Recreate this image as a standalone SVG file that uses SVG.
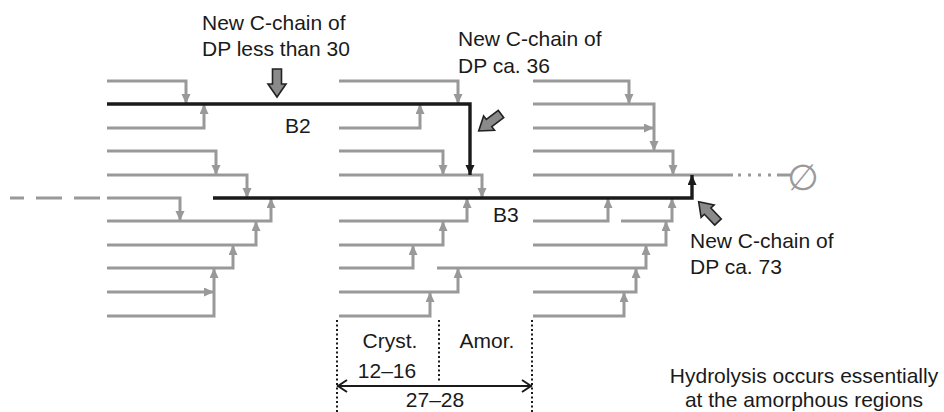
<svg xmlns="http://www.w3.org/2000/svg" width="944" height="412" viewBox="0 0 944 412">
<defs>
<style>
.g{fill:none;stroke:#999;stroke-width:3}
.ga{fill:none;stroke:#999;stroke-width:3;marker-end:url(#ag)}
.b{fill:none;stroke:#1a1a1a;stroke-width:3.4;marker-end:url(#ab)}
.t{font-family:"Liberation Sans",Arial,sans-serif;font-size:21px;fill:#1a1a1a}
.m{text-anchor:middle}
.dot{fill:none;stroke:#1a1a1a;stroke-width:2;stroke-dasharray:2 2.5}
.blk{fill:#8a8a8a;stroke:#222;stroke-width:1.6;stroke-linejoin:miter}
</style>
<marker id="ag" markerUnits="userSpaceOnUse" markerWidth="12" markerHeight="10" refX="10" refY="4.5" orient="auto">
<path d="M0,0 L10,4.5 L0,9 z" fill="#999"/>
</marker>
<marker id="ab" markerUnits="userSpaceOnUse" markerWidth="12" markerHeight="10" refX="10" refY="4.5" orient="auto">
<path d="M0,0 L10,4.5 L0,9 z" fill="#1a1a1a"/>
</marker>
<path id="blockArrow" d="M0,-4.5 L15,-4.5 L15,-9 L28,0 L15,9 L15,4.5 L0,4.5 z"/>
</defs>

<g id="connectors">
<!-- left cluster -->
<path class="ga" d="M107,81 H186 V104"/>
<path class="ga" d="M107,128 H204 V104"/>
<path class="ga" d="M107,151 H216 V175"/>
<path class="ga" d="M107,175 H247 V198"/>
<path class="ga" d="M107,198 H180 V221"/>
<path class="ga" d="M107,221 H271 V198"/>
<path class="ga" d="M107,245 H256 V221"/>
<path class="ga" d="M107,268 H233 V245"/>
<path class="ga" d="M107,292 H214"/>
<path class="ga" d="M107,316 H214 V268"/>
<path class="g" d="M100,198 H10" stroke-dasharray="26 12"/>
<!-- middle cluster -->
<path class="ga" d="M339,81 H458 V104"/>
<path class="ga" d="M339,128 H420 V104"/>
<path class="ga" d="M339,151 H443 V175"/>
<path class="ga" d="M339,175 H482 V198"/>
<path class="ga" d="M339,221 H467 V198"/>
<path class="ga" d="M339,245 H443 V221"/>
<path class="ga" d="M339,268 H413 V245"/>
<path class="ga" d="M339,292 H458 V268"/>
<path class="ga" d="M339,316 H430 V292"/>
<path class="ga" d="M437,268 H646 V245"/>
<!-- right cluster -->
<path class="ga" d="M533,81 H629 V104"/>
<path class="ga" d="M533,104 H654 V151"/>
<path class="ga" d="M533,128 H654"/>
<path class="ga" d="M533,151 H673 V175"/>
<path class="g" d="M533,175 H733"/>
<path class="g" d="M738,175 H773" stroke-dasharray="3 7"/>
<path class="g" d="M777,175 H792"/>
<path class="ga" d="M533,221 H608 V198"/>
<path class="ga" d="M621,221 H672 V198"/>
<path class="ga" d="M533,245 H666 V221"/>
<path class="ga" d="M533,292 H636 V268"/>
<path class="ga" d="M533,316 H624 V292"/>
<!-- black chains -->
<path class="b" d="M107,104 H470 V175"/>
<path class="b" d="M213,198 H692 V175"/>
<!-- dimension -->
<path class="dot" d="M337,320 V412"/>
<path class="dot" d="M439,320 V382"/>
<path class="dot" d="M532,320 V412"/>
<path d="M337,386 H532 M347,380 L338,386 L347,392 M522,380 L531,386 L522,392" fill="none" stroke="#1a1a1a" stroke-width="2"/>
</g>

<g id="arrow-dp30"><use href="#blockArrow" class="blk" transform="translate(277,69) rotate(90)"/></g>
<g id="arrow-dp36"><use href="#blockArrow" class="blk" transform="translate(501,114) rotate(142.8)"/></g>
<g id="arrow-dp73"><use href="#blockArrow" class="blk" transform="translate(718,222) rotate(226.3)"/></g>

<g id="label-dp30">
<text class="t" x="202" y="30">New C-chain of</text>
<text class="t" x="202" y="56">DP less than 30</text>
</g>
<g id="label-dp36">
<text class="t" x="458" y="46">New C-chain of</text>
<text class="t" x="458" y="73">DP ca. 36</text>
</g>
<g id="label-dp73">
<text class="t" x="690" y="248">New C-chain of</text>
<text class="t" x="690" y="274">DP ca. 73</text>
</g>
<g id="label-B2"><text class="t" x="285" y="133">B2</text></g>
<g id="label-B3"><text class="t" x="493" y="222">B3</text></g>
<g id="reducing-end"><text x="803" y="190" text-anchor="middle" font-family="DejaVu Sans,sans-serif" font-size="36" fill="#999">∅</text></g>
<g id="dimension-labels">
<text class="t m" x="390" y="348">Cryst.</text>
<text class="t m" x="387" y="378">12–16</text>
<text class="t m" x="487" y="348">Amor.</text>
<text class="t m" x="435" y="407">27–28</text>
</g>
<g id="note">
<text class="t m" x="804" y="383">Hydrolysis occurs essentially</text>
<text class="t m" x="804" y="407">at the amorphous regions</text>
</g>
</svg>
